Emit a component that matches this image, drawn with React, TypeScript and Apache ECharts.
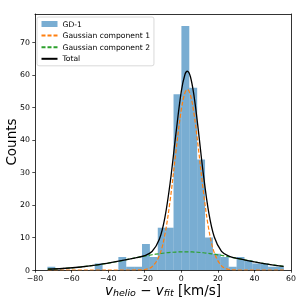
import { useEffect, useRef } from 'react';
import * as echarts from 'echarts';

// Histogram (30 bins)
const binStart = -73.2;
const binWidth = 4.31;
const counts = [1, 0, 0, 0, 0, 0, 2, 0, 0, 4, 1, 1, 8, 4, 13, 13, 54, 75, 56, 34, 10, 5, 4, 1, 4, 3, 2, 2, 1, 1];

// Fitted curves
const curveX = [-73, -65, -55, -45, -35, -25, -20, -16, -12, -9, -6, -3, 0, 2, 3.3, 5, 7, 9, 12, 15, 18, 22, 26, 32, 40, 48, 56];
const gauss1 = [0, 0, 0, 0, 0, 0.01, 0.16, 0.99, 4.42, 10.8, 21.8, 36.1, 49.3, 54.5, 55.5, 53.8, 47.9, 39.1, 24.5, 12.6, 5.37, 1.27, 0.21, 0, 0, 0, 0];
const gauss2 = [0.25, 0.46, 0.92, 1.64, 2.62, 3.74, 4.28, 4.68, 5.02, 5.24, 5.4, 5.52, 5.59, 5.6, 5.6, 5.57, 5.52, 5.45, 5.3, 5.1, 4.86, 4.48, 4.07, 3.4, 2.51, 1.73, 1.11];
const total = [0.25, 0.46, 0.92, 1.64, 2.62, 3.75, 4.44, 5.67, 9.44, 16.04, 27.2, 41.6, 54.9, 60.1, 61.1, 59.4, 53.4, 44.55, 29.8, 17.7, 10.23, 5.75, 4.28, 3.4, 2.51, 1.73, 1.11];

const xTicks = [-80, -60, -40, -20, 0, 20, 40, 60];
const yTicks = [0, 10, 20, 30, 40, 50, 60, 70];

const FONT = 'DejaVu Sans';

export default function App() {
  const ref = useRef<HTMLDivElement>(null);
  useEffect(() => {
    const chart = echarts.init(ref.current!, undefined, { renderer: 'svg' });
    const histData = counts.map((c, i) => [binStart + i * binWidth, binStart + (i + 1) * binWidth, c]);
    const pair = (ys: number[]) => curveX.map((x, i) => [x, ys[i]]);
    const frameAxis = {
      axisLine: { show: true, onZero: false, lineStyle: { color: '#000', width: 0.8 } },
      axisTick: { show: false },
      axisLabel: { show: false },
      splitLine: { show: false },
    };
    chart.setOption({
      animation: false,
      textStyle: { fontFamily: FONT },
      grid: { left: 35, right: 8, top: 14, bottom: 29, containLabel: false, outerBoundsMode: 'none' },
      legend: {
        orient: 'vertical',
        left: 37,
        top: 17,
        padding: [3, 4, 3, 3.5],
        itemGap: 3.6,
        itemWidth: 16,
        itemHeight: 6,
        borderColor: '#d0d0d0',
        borderWidth: 0.8,
        borderRadius: 2,
        backgroundColor: 'rgba(255,255,255,0.8)',
        textStyle: { fontSize: 7.6, color: '#000', fontFamily: FONT, lineHeight: 7.6 },
        data: [
          { name: 'GD-1', icon: 'rect' },
          { name: 'Gaussian component 1', itemStyle: { opacity: 0 } },
          { name: 'Gaussian component 2', itemStyle: { opacity: 0 } },
          { name: 'Total', itemStyle: { opacity: 0 } },
        ],
      },
      xAxis: [
        {
          type: 'value',
          min: -80,
          max: 60,
          interval: 20,
          splitLine: { show: false },
          axisLine: { show: true, onZero: false, lineStyle: { color: '#000', width: 0.8 } },
          axisTick: { show: true, length: 2.7, lineStyle: { color: '#000', width: 0.7 }, customValues: xTicks },
          axisLabel: {
            color: '#000', fontSize: 7.8, margin: 4.5, fontFamily: FONT,
            customValues: xTicks,
            formatter: (v: number) => String(v).replace('-', '\u2212'),
          },
          name: '{i|v}{s|helio}{n| \u2212 }{i|v}{s|fit}{n| [km/s]}',
          nameLocation: 'middle',
          nameGap: 13,
          nameMoveOverlap: false,
          nameTextStyle: {
            rich: {
              i: { fontSize: 13.5, fontStyle: 'italic', fontFamily: FONT, color: '#000', lineHeight: 14, verticalAlign: 'middle' },
              s: { fontSize: 9.5, fontStyle: 'italic', fontFamily: FONT, color: '#000', lineHeight: 14, verticalAlign: 'bottom' },
              n: { fontSize: 13.5, fontFamily: FONT, color: '#000', lineHeight: 14, verticalAlign: 'middle' },
            },
          },
        },
        { type: 'value', position: 'top', min: -80, max: 60, ...frameAxis },
      ],
      yAxis: [
        {
          type: 'value',
          min: 0,
          max: 78.7,
          splitLine: { show: false },
          axisLine: { show: true, onZero: false, lineStyle: { color: '#000', width: 0.8 } },
          axisTick: { show: true, length: 2.7, lineStyle: { color: '#000', width: 0.7 }, customValues: yTicks },
          axisLabel: { color: '#000', fontSize: 7.8, margin: 5, fontFamily: FONT, customValues: yTicks },
          name: 'Counts',
          nameLocation: 'middle',
          nameGap: 17,
          nameMoveOverlap: false,
          nameTextStyle: { fontSize: 13.5, color: '#000', fontFamily: FONT },
        },
        { type: 'value', position: 'right', min: 0, max: 78.7, ...frameAxis },
      ],
      series: [
        {
          name: 'GD-1',
          type: 'custom',
          itemStyle: { color: 'rgba(31,119,180,0.6)' },
          encode: { x: [0, 1], y: 2 },
          data: histData,
          renderItem: (params: any, api: any) => {
            const p0 = api.coord([api.value(0), api.value(2)]);
            const p1 = api.coord([api.value(1), 0]);
            return {
              type: 'rect',
              shape: { x: p0[0], y: p0[1], width: p1[0] - p0[0], height: p1[1] - p0[1] },
              style: { fill: 'rgba(31,119,180,0.6)' },
            };
          },
          z: 1,
        },
        {
          name: 'Gaussian component 1',
          type: 'line',
          data: pair(gauss1),
          smooth: 0.35,
          symbol: 'none',
          lineStyle: { color: '#ff7f0e', width: 1.2, type: [4, 2] },
          itemStyle: { color: '#ff7f0e' },
          z: 3,
        },
        {
          name: 'Gaussian component 2',
          type: 'line',
          data: pair(gauss2),
          smooth: 0.35,
          symbol: 'none',
          lineStyle: { color: '#2ca02c', width: 1.2, type: [4, 2] },
          itemStyle: { color: '#2ca02c' },
          z: 3,
        },
        {
          name: 'Total',
          type: 'line',
          data: pair(total),
          smooth: 0.35,
          symbol: 'none',
          lineStyle: { color: '#000', width: 1.3 },
          itemStyle: { color: '#000' },
          z: 4,
        },
      ],
    });
    return () => chart.dispose();
  }, []);
  return <div ref={ref} style={{ position: 'fixed', left: 0, top: 0, width: 299, height: 299 }} />;
}
